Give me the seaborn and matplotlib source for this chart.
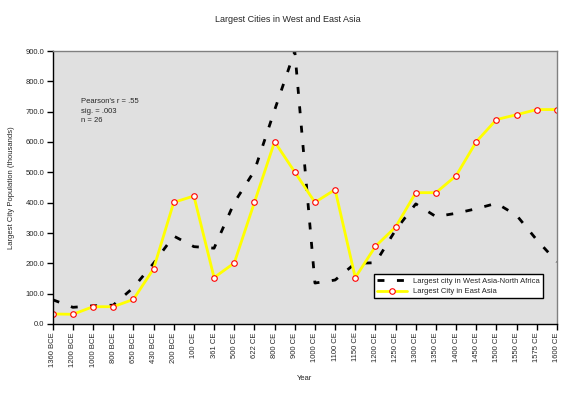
import numpy as np
import pandas as pd
import matplotlib
matplotlib.use("Agg")
import matplotlib.pyplot as plt
import seaborn as sns

# dados
anos = ['1360 BCE', '1200 BCE', '1000 BCE', '800 BCE', '650 BCE', '430 BCE', '200 BCE',
        '100 CE', '361 CE', '500 CE', '622 CE', '800 CE', '900 CE', '1000 CE', '1100 CE',
        '1150 CE', '1200 CE', '1250 CE', '1300 CE', '1350 CE', '1400 CE', '1450 CE',
        '1500 CE', '1550 CE', '1575 CE', '1600 CE']
oeste = [80, 55, 60, 62, 120, 200, 290, 255, 250, 400, 505, 705, 900, 135, 145,
         200, 202, 310, 396, 354, 365, 380, 398, 358, 277, 205]
leste = [33, 32, 57, 57, 81, 182, 401, 422, 153, 201, 401, 601, 501, 401, 443,
         153, 256, 320, 433, 433, 489, 601, 674, 690, 707, 707]

df = pd.DataFrame({'pos': np.arange(len(anos)), 'ano': anos, 'oeste': oeste, 'leste': leste})

sns.set_style('white')
plt.rcParams['font.family'] = ['Liberation Sans', 'DejaVu Sans']

fig = plt.figure(figsize=(5.76, 3.94), dpi=100)
ax = fig.add_axes([52.7 / 576, 1 - 324 / 394, (557 - 52.7) / 576, (324 - 51) / 394])
ax.set_facecolor('#E0E0E0')

sns.lineplot(data=df, x='pos', y='oeste', ax=ax, color='black', linewidth=2,
             linestyle=(0, (2.5, 4.5)), label='Largest city in West Asia-North Africa')
sns.lineplot(data=df, x='pos', y='leste', ax=ax, color='#FFFF00', linewidth=2,
             marker='o', markersize=4, markerfacecolor='white', markeredgecolor='red',
             markeredgewidth=0.8, label='Largest City in East Asia')

ax.set_xlim(0, len(anos) - 1)
ax.set_ylim(0, 900)
ax.set_xticks(df['pos'])
ax.set_xticklabels(anos, rotation=90, fontsize=5.5)
ax.set_yticks(np.arange(0, 901, 100))
ax.set_yticklabels([f'{v:.1f}' for v in np.arange(0, 901, 100)], fontsize=5.5)
ax.tick_params(axis='both', direction='out', length=4, width=1, color='black', pad=2)
ax.tick_params(axis='x', bottom=True)
ax.tick_params(axis='y', left=True)

for s in ['top', 'right']:
    ax.spines[s].set_color('#808080')
    ax.spines[s].set_linewidth(1)
for s in ['left', 'bottom']:
    ax.spines[s].set_color('black')
    ax.spines[s].set_linewidth(1)

ax.set_xlabel('')
ax.set_ylabel('Largest City Population (thousands)', fontsize=5.5, labelpad=8)
fig.text(305 / 576, 1 - 378 / 394, 'Year', ha='center', va='center', fontsize=5.5)
fig.text(0.5, 1 - 20 / 394, 'Largest Cities in West and East Asia', ha='center', va='center', fontsize=6.5)

ax.text(1.4, 745, "Pearson's r = .55\nsig. = .003\nn = 26", fontsize=5.5, va='top',
        linespacing=1.5)

leg = ax.legend(loc='lower right', bbox_to_anchor=(0.98, 0.08), fontsize=5.5, frameon=True,
                fancybox=False, edgecolor='black', framealpha=1, borderpad=0.4,
                handlelength=4, labelspacing=0.4)
leg.get_frame().set_linewidth(1)

fig.savefig('out.png', dpi=100)
